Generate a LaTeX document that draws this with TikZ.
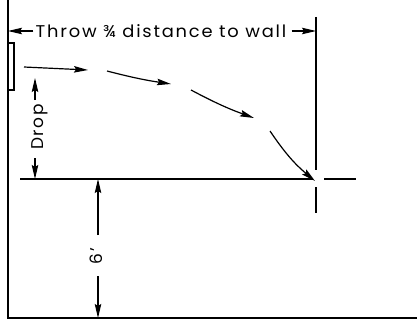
\documentclass[tikz,border=0pt]{standalone}
\usepackage{fontspec}
\setmainfont{Poppins}[LetterSpace=10]
\usetikzlibrary{arrows.meta}
\begin{document}
\begin{tikzpicture}[x=1pt,y=1pt,
  ln/.style={line width=1.1pt},
  arr/.style={line width=1.2pt,-{Stealth[length=14pt,width=6.5pt,inset=2pt]}},
  lbl/.style={inner sep=1pt,font=\fontsize{17}{19}\selectfont}]
\useasboundingbox (0,0) rectangle (417,322);
% frame: wall and ground
\coordinate (wallTop) at (8,322);
\coordinate (wallBot) at (8,4);
\coordinate (groundR) at (417,4);
\draw[ln] (wallTop) -- (wallBot) -- (groundR);
% window/door on wall
\draw[ln] (8,232) rectangle (14,279);
% target wall vertical line
\coordinate (tw1) at (316,305);
\coordinate (tw2) at (316,152);
\coordinate (tw3) at (316,135);
\coordinate (tw4) at (316,109);
\draw[ln] (tw1) -- (tw2);
\draw[ln] (tw3) -- (tw4);
% drop level line
\coordinate (h1) at (20,143);
\coordinate (h2) at (313,143);
\coordinate (h3) at (324,143);
\coordinate (h4) at (356,143);
\draw[ln] (h1) -- (h2);
\draw[ln] (h3) -- (h4);
% throw dimension
\node[lbl,xscale=1.05] (throw) at (161,291) {Throw ¾ distance to wall};
\coordinate (thL) at (8,291);
\coordinate (thR) at (316,291);
\draw[arr] (throw.west) ++(-1,0) -- (thL);
\draw[arr] ([xshift=4pt]throw.east) -- (thR);
% trajectory
\coordinate (t1a) at (24,255); \coordinate (t1b) at (88,252);
\coordinate (t2a) at (107,251); \coordinate (t2b) at (171,238);
\coordinate (t3a) at (191,232); \coordinate (t3b) at (254,204);
\coordinate (t4a) at (270,191); \coordinate (t4b) at (315,141);
\draw[arr] (t1a) -- (t1b);
\draw[arr] (t2a) to[bend right=3] (t2b);
\draw[arr] (t3a) to[bend right=4] (t3b);
\draw[arr] (t4a) to[bend right=8] (t4b);
% drop dimension
\node[lbl,rotate=90] (drop) at (40,195) {Drop};
\coordinate (dropTop) at (35,244);
\coordinate (dropBot) at (35,143);
\draw[arr] (35,222) -- (dropTop);
\draw[arr] (35,164) -- (dropBot);
% 6 ft dimension
\node[lbl,rotate=90] (six) at (96,66) {6'};
\coordinate (sixTop) at (98,143);
\coordinate (sixBot) at (98,4);
\draw[arr] (98,87) -- (sixTop);
\draw[arr] (98,46) -- (sixBot);
\end{tikzpicture}
\end{document}
